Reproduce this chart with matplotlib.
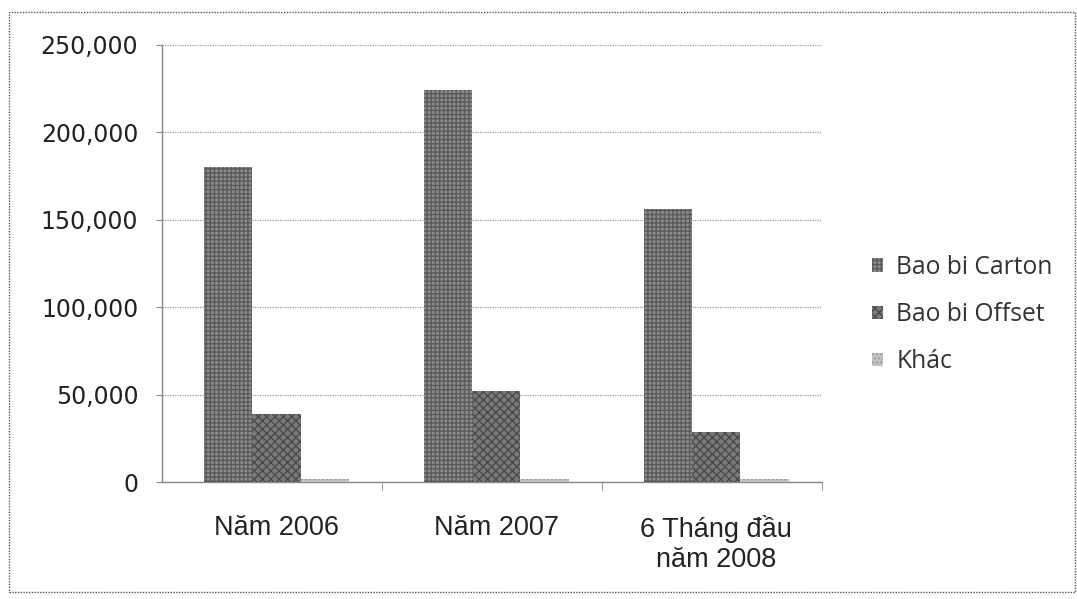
import matplotlib
matplotlib.use("Agg")
import matplotlib.pyplot as plt
from matplotlib.patches import Rectangle
import numpy as np

categories = ["Năm 2006", "Năm 2007", "6 Tháng đầu\nnăm 2008"]
series_names = ["Bao bi Carton", "Bao bi Offset", "Khác"]
carton = [180000, 224000, 156000]
offset = [39000, 52000, 28500]
khac = [2000, 1500, 2000]
yticks = [0, 50000, 100000, 150000, 200000, 250000]

values = [carton, offset, khac]
face = ["#8c8c8c", "#7a7a7a", "#c4c4c4"]
hatchc = ["#5a5a5a", "#4a4a4a", "#9a9a9a"]
hatches = ["++++", "xxxx", "...."]

fig = plt.figure(figsize=(10.77, 5.99), dpi=100)
ax = fig.add_axes([0.1504, 0.1953, 0.6125, 0.7297])

x = np.arange(len(categories))
w = 0.22
for i, (vals, name) in enumerate(zip(values, series_names)):
    ax.bar(x + (i - 1) * w + 0.02, vals, width=w, color=face[i],
           edgecolor=hatchc[i], hatch=hatches[i], linewidth=0, label=name, zorder=3)

ax.set_xlim(-0.5, 2.5)
ax.set_ylim(0, 250000)
ax.set_yticks(yticks)
ax.set_yticklabels([f"{v:,}" for v in yticks], fontsize=17, family="DejaVu Sans", color="#222222")
ax.set_xticks(x + 0.02)
ax.set_xticklabels(categories, fontsize=19.5, family="Liberation Sans", color="#222222",
                   linespacing=1.2)
ax.tick_params(axis="x", length=0, pad=24)
ax.tick_params(axis="y", length=4, color="#888888", pad=13)
ax.set_xticks([0.5, 1.5, 2.5], minor=True)
ax.tick_params(axis="x", which="minor", length=6, color="#888888")

ax.grid(axis="y", linestyle=(0, (1, 1)), color="#9a9a9a", linewidth=0.9, zorder=0)
for s in ["top", "right"]:
    ax.spines[s].set_visible(False)
for s in ["left", "bottom"]:
    ax.spines[s].set_linestyle((0, (1, 1)))
    ax.spines[s].set_color("#888888")
    ax.spines[s].set_linewidth(1.0)

leg = fig.legend(loc="center left", bbox_to_anchor=(0.8095, 0.475), frameon=False,
                 prop={"family": "Open Sans", "size": 17.7}, handlelength=0.45,
                 handleheight=0.45, handletextpad=0.55, labelspacing=0.9,
                 borderaxespad=0, borderpad=0)
for t in leg.get_texts():
    t.set_color("#333333")

fig.patches.append(Rectangle((0.008, 0.012), 0.99, 0.968, transform=fig.transFigure,
                             fill=False, edgecolor="#555555", linewidth=1.0,
                             linestyle=(0, (1, 1))))

fig.savefig("out.png", dpi=100, facecolor="white")
